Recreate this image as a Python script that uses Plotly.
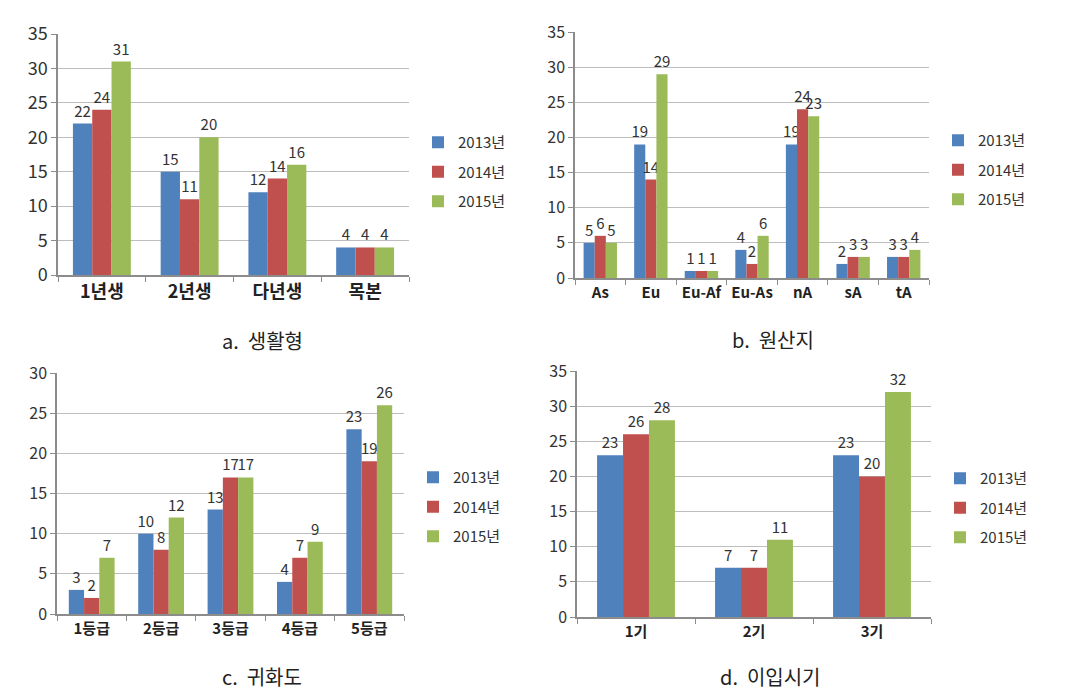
import plotly.graph_objects as go

years = ["2013년", "2014년", "2015년"]
colors = ["#4F81BD", "#C0504D", "#9BBB59"]

cat_a = ["1년생", "2년생", "다년생", "목본"]
a_2013 = [22, 15, 12, 4]
a_2014 = [24, 11, 14, 4]
a_2015 = [31, 20, 16, 4]

cat_b = ["As", "Eu", "Eu-Af", "Eu-As", "nA", "sA", "tA"]
b_2013 = [5, 19, 1, 4, 19, 2, 3]
b_2014 = [6, 14, 1, 2, 24, 3, 3]
b_2015 = [5, 29, 1, 6, 23, 3, 4]

cat_c = ["1등급", "2등급", "3등급", "4등급", "5등급"]
c_2013 = [3, 10, 13, 4, 23]
c_2014 = [2, 8, 17, 7, 19]
c_2015 = [7, 12, 17, 9, 26]

cat_d = ["1기", "2기", "3기"]
d_2013 = [23, 7, 23]
d_2014 = [26, 7, 20]
d_2015 = [28, 11, 32]

captions = ["a.  생활형", "b.  원산지", "c.  귀화도", "d.  이입시기"]

W, H = 1073, 692
FONT = "Noto Sans CJK KR"

def px(x):
    return x / W

def py(y):
    return 1 - y / H

panels = [
    # cats, series, axis suffix, legend name, xdom(px), ydom(px top,bottom), yrange,
    # legend pos, caption pos, tick size, category size
    (cat_a, [a_2013, a_2014, a_2015], "", "legend", (58, 409), (34, 275), 35, (418, 126), (262, 340), 18, 18),
    (cat_b, [b_2013, b_2014, b_2015], "2", "legend2", (575, 929), (32, 278), 35, (938, 124), (773, 339), 16, 15),
    (cat_c, [c_2013, c_2014, c_2015], "3", "legend3", (57, 404), (373, 614), 30, (413, 461), (262, 676), 16, 15),
    (cat_d, [d_2013, d_2014, d_2015], "4", "legend4", (577, 931), (371, 617), 35, (940, 462), (770, 676), 16, 15),
]

fig = go.Figure()
layout = dict(
    width=W, height=H,
    margin=dict(l=0, r=0, t=0, b=0, autoexpand=False),
    paper_bgcolor="white", plot_bgcolor="white",
    barmode="group", bargap=0.34, bargroupgap=0,
    font=dict(family=FONT, color="#333333"),
    showlegend=True,
    annotations=[],
)

for cats, series, sfx, lg, xd, yd, ymax, lpos, cpos, tsz, csz in panels:
    for i, (yr, vals) in enumerate(zip(years, series)):
        fig.add_trace(go.Bar(
            x=cats, y=vals, name=yr,
            marker=dict(color=colors[i], line=dict(width=0)),
            text=[str(v) for v in vals], textposition="outside",
            textfont=dict(size=15, color="#333333", family=FONT),
            constraintext="none",
            cliponaxis=False,
            xaxis="x" + sfx, yaxis="y" + sfx,
            legend=lg, legendgroup=lg + yr,
        ))
    layout["xaxis" + sfx] = dict(
        domain=[px(xd[0]), px(xd[1])], anchor="y" + sfx,
        type="category", showgrid=False, automargin=False, tickangle=0,
        showline=True, linecolor="#8C8C8C", linewidth=1.5,
        ticks="outside", tickson="boundaries", ticklen=5, tickcolor="#8C8C8C",
        tickfont=dict(size=csz, weight="bold", color="#222222", family=FONT),
        fixedrange=True,
    )
    layout["yaxis" + sfx] = dict(
        domain=[py(yd[1]), py(yd[0])], anchor="x" + sfx,
        range=[0, ymax], dtick=5, automargin=False,
        showgrid=True, gridcolor="#BDBDBD", gridwidth=1.2,
        showline=True, linecolor="#8C8C8C", linewidth=1.5,
        ticks="outside", ticklen=5, tickcolor="#8C8C8C",
        tickfont=dict(size=tsz, color="#333333", family=FONT),
        zeroline=False, fixedrange=True,
    )
    layout[lg] = dict(
        x=px(lpos[0]), y=py(lpos[1]), xanchor="left", yanchor="top",
        font=dict(size=15, color="#333333", family=FONT),
        bgcolor="rgba(0,0,0,0)", itemwidth=30, tracegroupgap=7,
        traceorder="grouped",
    )

for cap, p in zip(captions, panels):
    cpos = p[8]
    layout["annotations"].append(dict(
        text=cap, x=px(cpos[0]), y=py(cpos[1]), xref="paper", yref="paper",
        xanchor="center", yanchor="middle", showarrow=False,
        font=dict(size=20, color="#222222", family=FONT),
    ))

fig.update_layout(**layout)
fig.write_html(
    "out.html",
    config={"displayModeBar": False},
    post_script="document.body.style.margin='0';document.body.style.overflow='hidden';",
)
